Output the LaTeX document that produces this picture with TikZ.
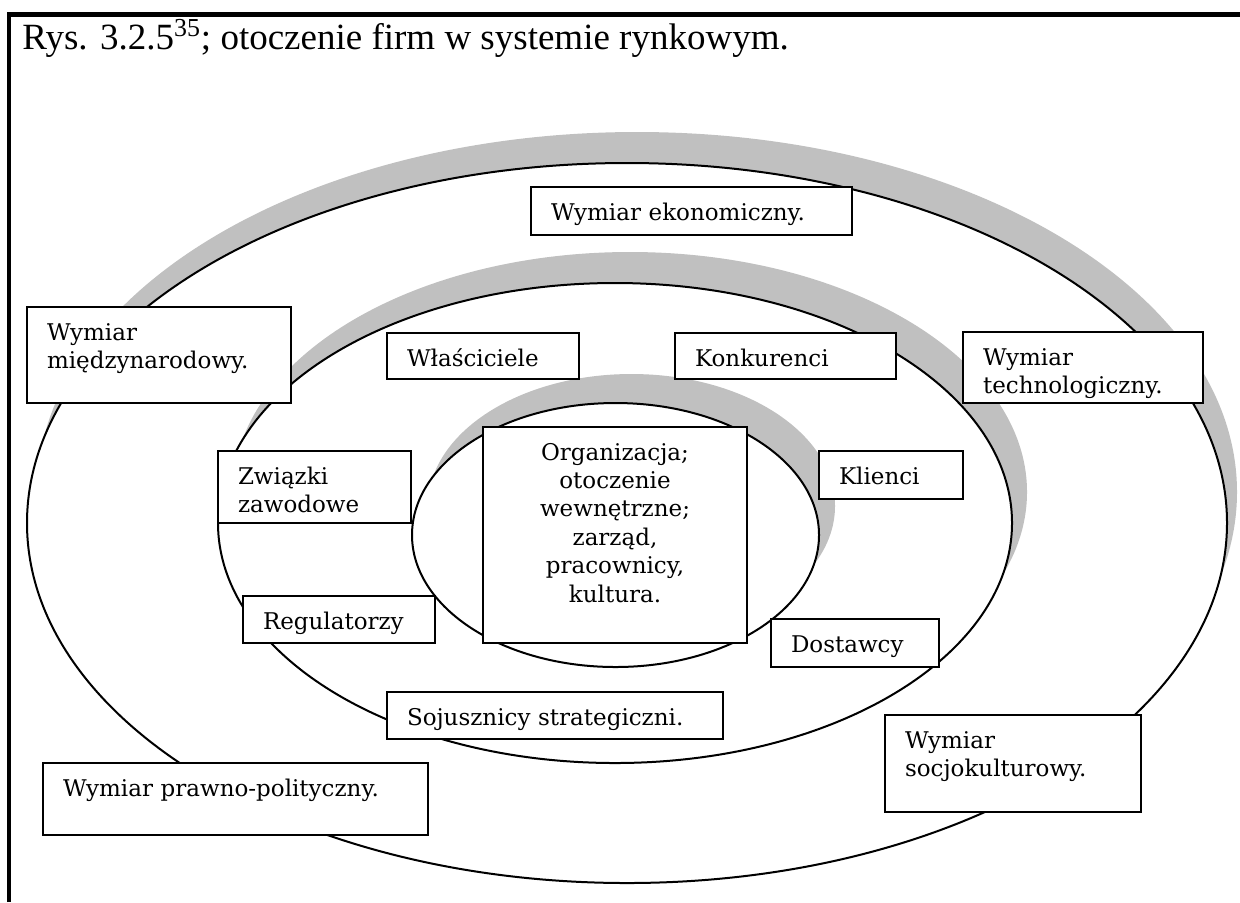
\documentclass[tikz,border=0pt]{standalone}
\usepackage{fontspec}
\setmainfont{Liberation Serif}
\newfontfamily\boxfont{DejaVu Serif}
\usetikzlibrary{positioning}
\definecolor{shadowgray}{RGB}{192,192,192}
\tikzset{
  frame/.style={line width=2.25pt, black},
  ring/.style={draw=black, fill=white, line width=1pt},
  ringshadow/.style={fill=shadowgray},
  box/.style={draw=black, fill=white, line width=0.8pt, outer sep=0pt, inner xsep=10pt, inner ysep=4.5pt, text height=12pt, anchor=north west, align=left, font=\boxfont\fontsize{11.5}{14.2}\selectfont},
  title/.style={anchor=base west, inner sep=0pt, font=\fontsize{18.5}{22}\selectfont}
}

\begin{document}
\begin{tikzpicture}[x=0.5pt, y=-0.5pt]
  \useasboundingbox (0,0) rectangle (1240,902);
  \draw[frame] (9,902) -- (9,14.5) -- (1240,14.5);
  \node[title] (tytul) at (22,49) {Rys. 3.2.5\textsuperscript{35}; otoczenie firm w systemie rynkowym.};
  \foreach \cx/\cy/\rx/\ry/\dx/\dy in {627/523/600/360/10/-31, 615/523/397/240/15/-31, 615.5/535/203.5/132/16/-29}{
    \fill[ringshadow] (\cx+\dx,\cy+\dy) ellipse [x radius=\rx, y radius=\ry];
    \draw[ring] (\cx,\cy) ellipse [x radius=\rx, y radius=\ry];
  }
  \node[box, text width=140.5pt, text depth=3pt] (eko) at (531,187) {Wymiar ekonomiczny.};
  \node[box, text width=112pt, text depth=27pt] (miedzy) at (27,307) {Wymiar\\międzynarodowy.};
  \node[box, text width=76pt, text depth=2pt] (wlasc) at (387,333) {Właściciele};
  \node[box, text width=90.5pt, text depth=2pt] (konk) at (675,333) {Konkurenci};
  \node[box, text width=100pt, text depth=14.5pt] (techno) at (963,332) {Wymiar\\technologiczny.};
  \node[box, text width=76.5pt, text depth=15pt] (zwiazki) at (218,451) {Związki\\zawodowe};
  \node[box, text width=76pt, text depth=2.5pt] (regul) at (243,596) {Regulatorzy};
  \node[box, text width=112pt, text depth=87pt, align=center] (org) at (483,427) {Organizacja;\\otoczenie\\wewnętrzne;\\zarząd,\\pracownicy,\\kultura.};
  \node[box, text width=52pt, text depth=3pt] (klienci) at (819,451) {Klienci};
  \node[box, text width=64pt, text depth=3pt] (dostawcy) at (771,619) {Dostawcy};
  \node[box, text width=148pt, text depth=2.5pt] (sojusz) at (387,692) {Sojusznicy strategiczni.};
  \node[box, text width=172.5pt, text depth=15pt] (prawno) at (43,763) {Wymiar prawno-polityczny.};
  \node[box, text width=108pt, text depth=27.5pt] (socjo) at (885,715) {Wymiar\\socjokulturowy.};
\end{tikzpicture}
\end{document}
